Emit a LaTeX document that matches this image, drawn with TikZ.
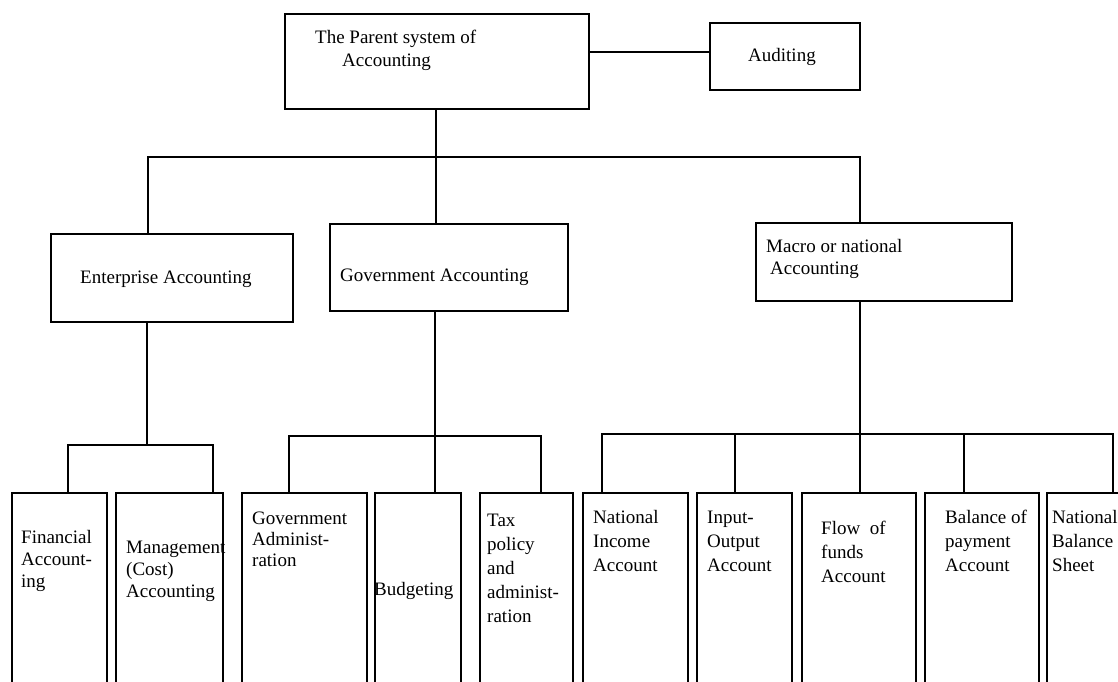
\documentclass[tikz,border=0pt]{standalone}
\usepackage{fontspec}
\setmainfont{Liberation Serif}
\newcommand\boxat[5]{\node[box, minimum width={#4-#2}, minimum height={#5-#3}] (#1) at (#2,#3) {};}
\tikzset{
  box/.style={draw, rectangle, line width=1.8pt, inner sep=0pt, outer sep=0pt, anchor=north west},
  % multi-line labels are placed by the baseline of their last line
  lbl/.style={inner sep=0pt, anchor=base west, align=left, font=\fontsize{19}{#1}\selectfont},
  lbl/.default=22,
  wire/.style={line width=1.8pt, line cap=rect},
}
\begin{document}
\begin{tikzpicture}[x=1pt, y=-1pt]
\useasboundingbox (0,0) rectangle (1118,681);
\clip (0,0) rectangle (1118,681);
\fill[white] (0,0) rectangle (1118,681);

% top level
\boxat{par}{285}{14}{589}{109}
\boxat{aud}{710}{23}{860}{90}
\node[lbl=23] (par-t) at (315,66) {The Parent system of\\\hspace*{27pt}Accounting};
\node[lbl] (aud-t) at (748,61) {Auditing};

% second level
\boxat{ent}{51}{234}{293}{322}
\boxat{gov}{330}{224}{568}{311}
\boxat{mac}{756}{223}{1012}{301}
\node[lbl] (ent-t) at (80,283) {Enterprise Accounting};
\node[lbl] (gov-t) at (340,281) {Government Accounting};
\node[lbl] (mac-t) at (766,274) {Macro or national\\\hspace*{4pt}Accounting};

% third level (boxes run off the bottom edge)
\boxat{fin}{12}{493}{107}{720}
\boxat{mgt}{116}{493}{223}{720}
\boxat{gad}{242}{493}{367}{720}
\boxat{bud}{375}{493}{461}{720}
\boxat{tax}{480}{493}{573}{720}
\boxat{nia}{583}{493}{688}{720}
\boxat{ioa}{697}{493}{792}{720}
\boxat{ffa}{802}{493}{916}{720}
\boxat{bpa}{925}{493}{1039}{720}
\boxat{nbs}{1047}{493}{1150}{720}

\node[lbl] (fin-t) at (21,587) {Financial\\Account-\\ing};
\node[lbl] (mgt-t) at (126,597) {Management\\(Cost)\\Accounting};
\node[lbl=21] (gad-t) at (252,566) {Government\\Administ-\\ration};
\node[lbl] (bud-t) at (374,595) {Budgeting};
\node[lbl=24] (tax-t) at (487,622) {Tax\\policy\\and\\administ-\\ration};
\node[lbl=24] (nia-t) at (593,571) {National\\Income\\Account};
\node[lbl=24] (ioa-t) at (707,571) {Input-\\Output\\Account};
\node[lbl=24] (ffa-t) at (821,582) {Flow\ \ of\\funds\\Account};
\node[lbl=24] (bpa-t) at (945,571) {Balance of\\payment\\Account};
\node[lbl=24] (nbs-t) at (1052,571) {National\\Balance\\Sheet};

% junction points on the buses
\coordinate (top-l) at (148,157);
\coordinate (top-m) at (436,157);
\coordinate (top-r) at (860,157);
\coordinate (ent-bus) at (147,445);
\coordinate (fin-c) at (68,445);
\coordinate (mgt-c) at (213,445);
\coordinate (gad-c) at (289,436);
\coordinate (bud-c) at (435,436);
\coordinate (tax-c) at (541,436);
\coordinate (nia-c) at (602,434);
\coordinate (ioa-c) at (735,434);
\coordinate (ffa-c) at (860,434);
\coordinate (bpa-c) at (964,434);
\coordinate (nbs-c) at (1113,434);

% connectors
\draw[wire] (par.east |- 0,52) -- (aud.west |- 0,52);
\draw[wire] (par.south -| top-m) -- (gov.north -| top-m);
\draw[wire] (top-l) -- (top-r);
\draw[wire] (top-l) -- (top-l |- ent.north);
\draw[wire] (top-r) -- (top-r |- mac.north);

\draw[wire] (ent.south -| ent-bus) -- (ent-bus);
\draw[wire] (fin.north -| fin-c) |- (mgt-c) -- (mgt.north -| mgt-c);

\draw[wire] (gov.south -| bud-c) -- (bud.north -| bud-c);
\draw[wire] (gad.north -| gad-c) |- (tax-c) -- (tax.north -| tax-c);

\draw[wire] (mac.south -| ffa-c) -- (ffa.north -| ffa-c);
\draw[wire] (nia.north -| nia-c) |- (nbs-c) -- (nbs.north -| nbs-c);
\draw[wire] (ioa-c) -- (ioa.north -| ioa-c);
\draw[wire] (bpa-c) -- (bpa.north -| bpa-c);
\end{tikzpicture}
\end{document}
